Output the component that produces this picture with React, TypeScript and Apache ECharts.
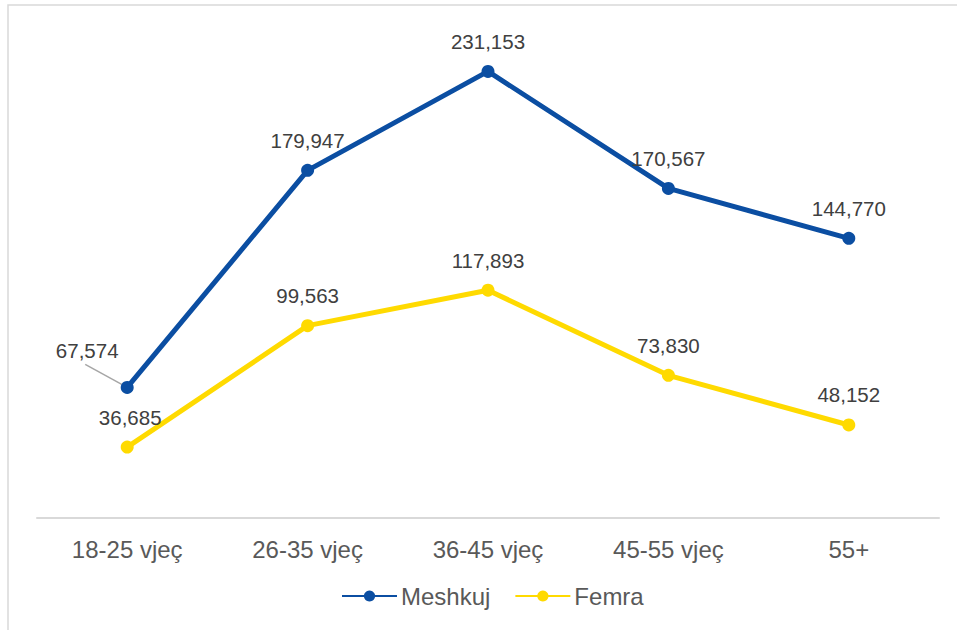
import React, { useEffect, useRef } from "react";
import * as echarts from "echarts";

const categories = ["18-25 vjeç", "26-35 vjeç", "36-45 vjeç", "45-55 vjeç", "55+"];
const meshkuj = [67574, 179947, 231153, 170567, 144770];
const femra = [36685, 99563, 117893, 73830, 48152];
const seriesNames = ["Meshkuj", "Femra"];

const fmt = (v: number) => v.toLocaleString("en-US");

export default function App() {
  const ref = useRef<HTMLDivElement>(null);
  useEffect(() => {
    if (!ref.current) return;
    const chart = echarts.init(ref.current, null, { renderer: "svg" });
    const font = "'Liberation Sans', Arial, sans-serif";
    const labelStyle = {
      show: true,
      position: "top" as const,
      distance: 13,
      fontSize: 20.5,
      fontFamily: font,
      color: "#404040",
      formatter: (p: any) => fmt(p.value),
    };
    const blue = "#0B4EA2";
    const yellow = "#FFDA00";
    chart.setOption({
      animation: false,
      backgroundColor: "#ffffff",
      textStyle: { fontFamily: font },
      grid: { left: 37, right: 18, top: 35, bottom: 112 },
      xAxis: {
        type: "category",
        data: categories,
        boundaryGap: true,
        axisLine: { lineStyle: { color: "#d9d9d9", width: 2 } },
        axisTick: { show: false },
        axisLabel: { color: "#595959", fontSize: 24, fontFamily: font, margin: 19 },
        splitLine: { show: false },
      },
      yAxis: {
        type: "value",
        min: 0,
        max: 250000,
        show: false,
        splitLine: { show: false },
      },
      legend: {
        data: seriesNames,
        bottom: 17,
        left: 336,
        itemWidth: 55,
        itemHeight: 14,
        itemGap: 24,
        textStyle: { color: "#595959", fontSize: 24, fontFamily: font, padding: [0, 0, 0, -1] },
      },
      series: [
        {
          name: seriesNames[0],
          type: "line",
          data: meshkuj,
          color: blue,
          lineStyle: { width: 5, color: blue },
          itemStyle: { color: blue },
          symbol: "circle",
          symbolSize: 13,
          label: labelStyle,
          labelLayout: (p: any) => (p.dataIndex === 0 ? { dx: -40, dy: -7 } : {}),
          z: 3,
        },
        {
          name: seriesNames[1],
          type: "line",
          data: femra,
          color: yellow,
          lineStyle: { width: 5, color: yellow },
          itemStyle: { color: yellow },
          symbol: "circle",
          symbolSize: 13,
          label: labelStyle,
          labelLayout: (p: any) => (p.dataIndex === 0 ? { dx: 3 } : {}),
          z: 2,
        },
      ],
    });
    const p = chart.convertToPixel({ seriesIndex: 0 }, [0, meshkuj[0]]) as number[];
    chart.setOption({
      graphic: [
        {
          type: "rect",
          shape: { x: 8, y: 5, width: 1000, height: 700 },
          style: { fill: "none", stroke: "#d9d9d9", lineWidth: 1.5 },
          silent: true,
        },
        {
          type: "line",
          shape: { x1: p[0] - 42, y1: p[1] - 23, x2: p[0], y2: p[1] },
          style: { stroke: "#a6a6a6", lineWidth: 1.5 },
          z: 2,
          silent: true,
        },
      ],
    });
    return () => chart.dispose();
  }, []);
  return (
    <div
      ref={ref}
      style={{ position: "fixed", left: 0, top: 0, width: 957, height: 630 }}
    />
  );
}
